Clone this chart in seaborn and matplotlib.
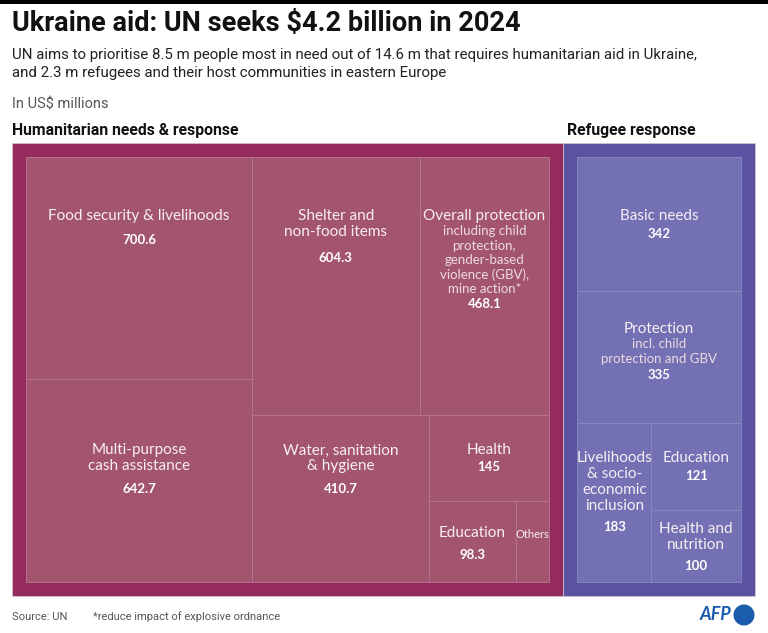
import numpy as np
import pandas as pd
import seaborn as sns
import matplotlib
matplotlib.use("Agg")
import matplotlib.pyplot as plt
from matplotlib.patches import Rectangle, Circle

# ------------------------------------------------------------------ data
group_names = ["Humanitarian needs & response", "Refugee response"]

hum_labels = ["Food security & livelihoods", "Multi-purpose\ncash assistance",
              "Shelter and\nnon-food items", "Overall protection",
              "Water, sanitation\n& hygiene", "Health", "Education", "Others"]
hum_notes = ["", "", "", "including child\nprotection,\ngender-based\nviolence (GBV),\nmine action*",
             "", "", "", ""]
hum_values = [700.6, 642.7, 604.3, 468.1, 410.7, 145.0, 98.3, 37.4]
hum_show_value = [True, True, True, True, True, True, True, False]

ref_labels = ["Basic needs", "Protection", "Livelihoods\n& socio-\neconomic\ninclusion",
              "Education", "Health and\nnutrition"]
ref_notes = ["", "incl. child\nprotection and GBV", "", "", ""]
ref_values = [342, 335, 183, 121, 100]
ref_show_value = [True, True, True, True, True]

title = "Ukraine aid: UN seeks $4.2 billion in 2024"
subtitle = ("UN aims to prioritise 8.5 m people most in need out of 14.6 m that requires humanitarian aid in Ukraine,\n"
            "and 2.3 m refugees and their host communities in eastern Europe")
unit_note = "In US$ millions"
source = "Source: UN"
footnote = "*reduce impact of explosive ordnance"

# ------------------------------------------------------------------ layout / style
# strips: groups of items laid out together along the shorter side (squarified-style)
hum_strips = [[0, 1], [2, 3], [4], [5], [6], [7]]
ref_strips = [[0], [1], [2], [3], [4]]
# label position: offset (px) of first label line below cell top, gap to value
hum_label_off = [59, 71, 59, 59, 35, 35, 32, 33]
hum_value_gap = [24, 23, 26, 15, 23, 17, 22, 0]
ref_label_off = [59, 38, 35, 35, 19]
ref_value_gap = [18, 16, 21, 18, 21]

W, H = 768, 633
BOX = (12, 143, 755, 596)   # treemap area in px
PAD = 14

hum_outer, hum_cell = "#952a5c", "#a3556f"
ref_outer, ref_cell = "#5953a2", "#7370b3"
hum_line, ref_line = "#b77790", "#8b89c2"

sns.set_theme(style="white")
plt.rcParams["font.family"] = ["Lato", "DejaVu Sans"]
HEAD = ["Roboto", "DejaVu Sans"]


def strip_layout(values, strips, x0, y0, x1, y1):
    rects = [None] * len(values)
    remaining = float(sum(values))
    for strip in strips:
        s = float(sum(values[i] for i in strip))
        w, h = x1 - x0, y1 - y0
        if w >= h:   # column on the left, children stacked
            cw = w * s / remaining
            yy = y0
            for i in strip:
                ch = h * values[i] / s
                rects[i] = (x0, yy, x0 + cw, yy + ch)
                yy += ch
            x0 += cw
        else:        # row on top, children side by side
            rh = h * s / remaining
            xx = x0
            for i in strip:
                cw = w * values[i] / s
                rects[i] = (xx, y0, xx + cw, y0 + rh)
                xx += cw
            y0 += rh
        remaining -= s
    return rects


fig = plt.figure(figsize=(W / 100, H / 100), dpi=100)
ax = fig.add_axes([0, 0, 1, 1])
ax.set_xlim(0, W)
ax.set_ylim(H, 0)
ax.axis("off")

# top black rule
ax.add_patch(Rectangle((0, 0), W, 4, color="black", lw=0))

ax.text(12, 23, title, fontsize=19.5, fontweight="bold", family=HEAD, va="center", ha="left", color="#111111")
ax.text(12, 64, subtitle, fontsize=10.8, family=HEAD, va="center", ha="left", color="#222222", linespacing=1.35)
ax.text(12, 104, unit_note, fontsize=10.5, family=HEAD, va="center", ha="left", color="#555555")

totals = [sum(hum_values), sum(ref_values)]
bx0, by0, bx1, by1 = BOX
split_x = bx0 + (bx1 - bx0) * totals[0] / sum(totals)
outers = [(bx0, by0, split_x, by1), (split_x, by0, bx1, by1)]

ax.text(outers[0][0], 131, group_names[0], fontsize=11.3, fontweight="bold", family=HEAD,
        va="center", ha="left", color="#111111")
ax.text(outers[1][0] + 4, 131, group_names[1], fontsize=11.3, fontweight="bold", family=HEAD,
        va="center", ha="left", color="#111111")

sections = [
    (outers[0], hum_values, hum_strips, hum_labels, hum_notes, hum_show_value, hum_label_off,
     hum_value_gap, hum_outer, hum_cell, hum_line),
    (outers[1], ref_values, ref_strips, ref_labels, ref_notes, ref_show_value, ref_label_off,
     ref_value_gap, ref_outer, ref_cell, ref_line),
]

for (o, vals, strips, labels, notes, showv, loff, vgap, oc, cc, lc) in sections:
    ox0, oy0, ox1, oy1 = o
    ax.add_patch(Rectangle((ox0, oy0), ox1 - ox0, oy1 - oy0, facecolor=oc, edgecolor="#d9c6d6", lw=0.5))
    rects = strip_layout(vals, strips, ox0 + PAD, oy0 + PAD, ox1 - PAD, oy1 - PAD)
    for i, (x0, y0, x1, y1) in enumerate(rects):
        ax.add_patch(Rectangle((x0, y0), x1 - x0, y1 - y0, facecolor=cc, edgecolor=lc, lw=0.6))
        cx = (x0 + x1) / 2
        y = y0 + loff[i]
        small = labels[i] == "Others"
        lines = labels[i].split("\n")
        for ln in lines:
            ax.text(cx, y, ln, fontsize=8 if small else 11, color="#f7eef3", ha="center", va="center")
            y += 16
        y -= 16
        if notes[i]:
            y += 15
            for ln in notes[i].split("\n"):
                ax.text(cx, y, ln, fontsize=9.5, color="#ecd9e2", ha="center", va="center")
                y += 14.5
            y -= 14.5
        if showv[i]:
            y += vgap[i]
            ax.text(cx, y, f"{vals[i]:g}", fontsize=9.5, fontweight="bold", color="white",
                    ha="center", va="center")

ax.text(12, 617, source, fontsize=8, family=HEAD, color="#555555", va="center", ha="left")
ax.text(93, 617, footnote, fontsize=8, family=HEAD, color="#555555", va="center", ha="left")

# AFP logo
ax.text(731, 615, "AFP", fontsize=13, fontweight="bold", style="italic", color="#1b5cad",
        ha="right", va="center")
ax.add_patch(Circle((744, 615), 10.5, color="#1b5cad", lw=0))

fig.savefig("out.png", dpi=100)
